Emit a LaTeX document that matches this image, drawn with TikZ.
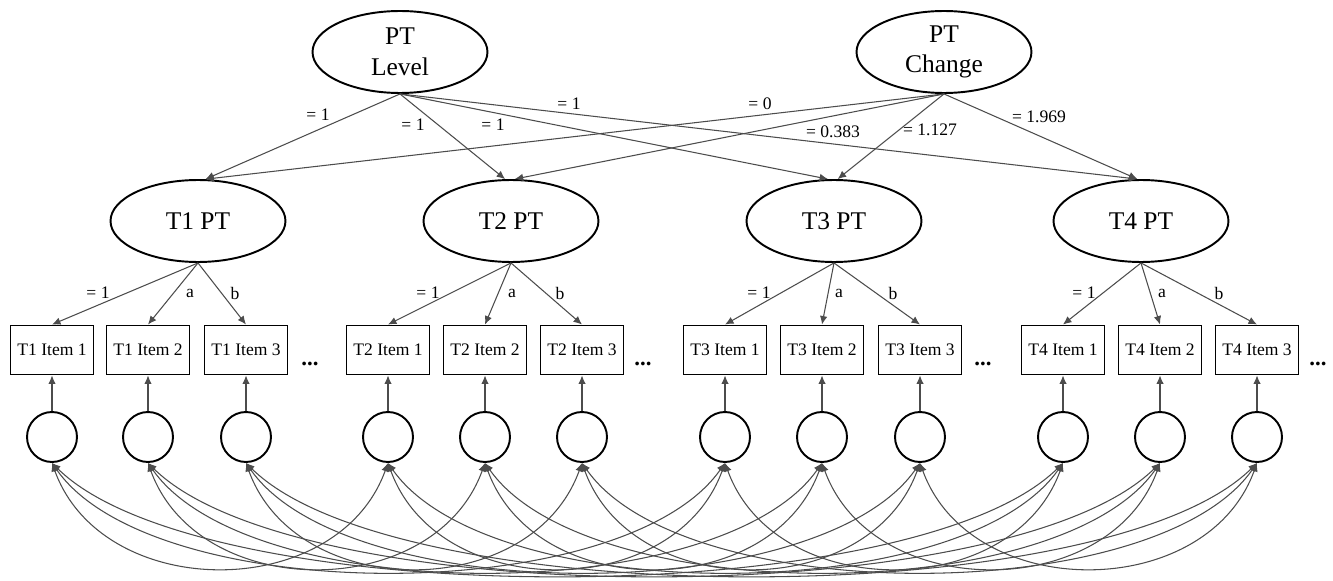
\documentclass[tikz,border=0pt]{standalone}
\usepackage{fontspec}
\setmainfont{Liberation Serif}
\usetikzlibrary{shapes.geometric, arrows.meta}

\begin{document}
\begin{tikzpicture}[x=0.02cm, y=-0.02cm,
  latent/.style={draw, ellipse, line width=1.1pt, minimum width=3.5cm, minimum height=1.64cm, inner sep=0pt, align=center, font=\fontsize{14.5}{17.5}\selectfont},
  itembox/.style={draw, rectangle, line width=1.1pt, minimum width=1.66cm, minimum height=0.98cm, inner sep=0pt, font=\fontsize{10}{12}\selectfont},
  resid/.style={draw, circle, line width=1.1pt, minimum size=1cm, inner sep=0pt},
  reg/.style={draw=black!70, line width=0.6pt, -{Latex[length=1.7mm,width=1.5mm]}},
  cov/.style={draw=black!70, line width=0.6pt, {Latex[length=1.7mm,width=1.5mm]}-{Latex[length=1.7mm,width=1.5mm]}},
  lbl/.style={inner sep=0pt, font=\fontsize{10}{12}\selectfont},
  etc/.style={inner sep=0pt, font=\fontsize{13}{15}\selectfont\bfseries}]
\useasboundingbox (0,0) rectangle (1333,581);

\node[latent] (lvl) at (400,52) {PT\\Level};
\node[latent] (chg) at (944,52) {PT\\Change};

\foreach \g/\xa/\xb/\xc/\xd/\xt in {1/52/148/246/310/198, 2/388/485/582/643/511, 3/725/822/920/983/834, 4/1063/1160/1257/1318/1141}{
  \node[latent] (t\g) at (\xt,221) {T\g{} PT};
  \node[itembox] (i\g1) at (\xa,350) {T\g{} Item 1};
  \node[itembox] (i\g2) at (\xb,350) {T\g{} Item 2};
  \node[itembox] (i\g3) at (\xc,350) {T\g{} Item 3};
  \node[etc] (d\g) at (\xd,364) {...};
  \foreach \k/\xk in {1/\xa, 2/\xb, 3/\xc}{
    \node[resid] (r\g\k) at (\xk,437) {};
    \draw[reg] (r\g\k.north) -- (i\g\k.south);
    \draw[reg] (t\g.south) -- (i\g\k.north);
  }
}

\draw[reg] (lvl.south) -- (t1.80);
\draw[reg] (lvl.south) -- (t2.98);
\draw[reg] (lvl.south) -- (t3.98);
\draw[reg] (lvl.south) -- (t4.95);
\draw[reg] (chg.south) -- (t1.80);
\draw[reg] (chg.south) -- (t2.85);
\draw[reg] (chg.south) -- (t3.85);
\draw[reg] (chg.south) -- (t4.95);

\node[lbl] (a1) at (318,115) {= 1};
\node[lbl] (a2) at (413,125) {= 1};
\node[lbl] (a3) at (493,125) {= 1};
\node[lbl] (a4) at (569,104) {= 1};
\node[lbl] (b1) at (760,104) {= 0};
\node[lbl] (b2) at (833,132) {= 0.383};
\node[lbl] (b3) at (930,130) {= 1.127};
\node[lbl] (b4) at (1039,117) {= 1.969};

\foreach \g/\xa/\xb/\xc in {1/98/190/235, 2/428/512/560, 3/759/839/893, 4/1084/1162/1219}{
  \node[lbl] (f\g) at (\xa,293) {= 1};
  \node[lbl] (fa\g) at (\xb,293) {a};
  \node[lbl] (fb\g) at (\xc,293) {b};
}

\foreach \k in {1,2,3}{
  \foreach \i/\j in {1/2, 1/3, 1/4, 2/3, 2/4, 3/4}{
    \pgfmathsetmacro\ctl{0.15*(\j-\i)*337}
    \pgfmathsetmacro\dep{140+5*(\j-\i-1)}
    \draw[cov] (r\i\k.south) .. controls +(\ctl,\dep) and +(-\ctl,\dep) .. (r\j\k.south);
  }
}
\end{tikzpicture}
\end{document}
